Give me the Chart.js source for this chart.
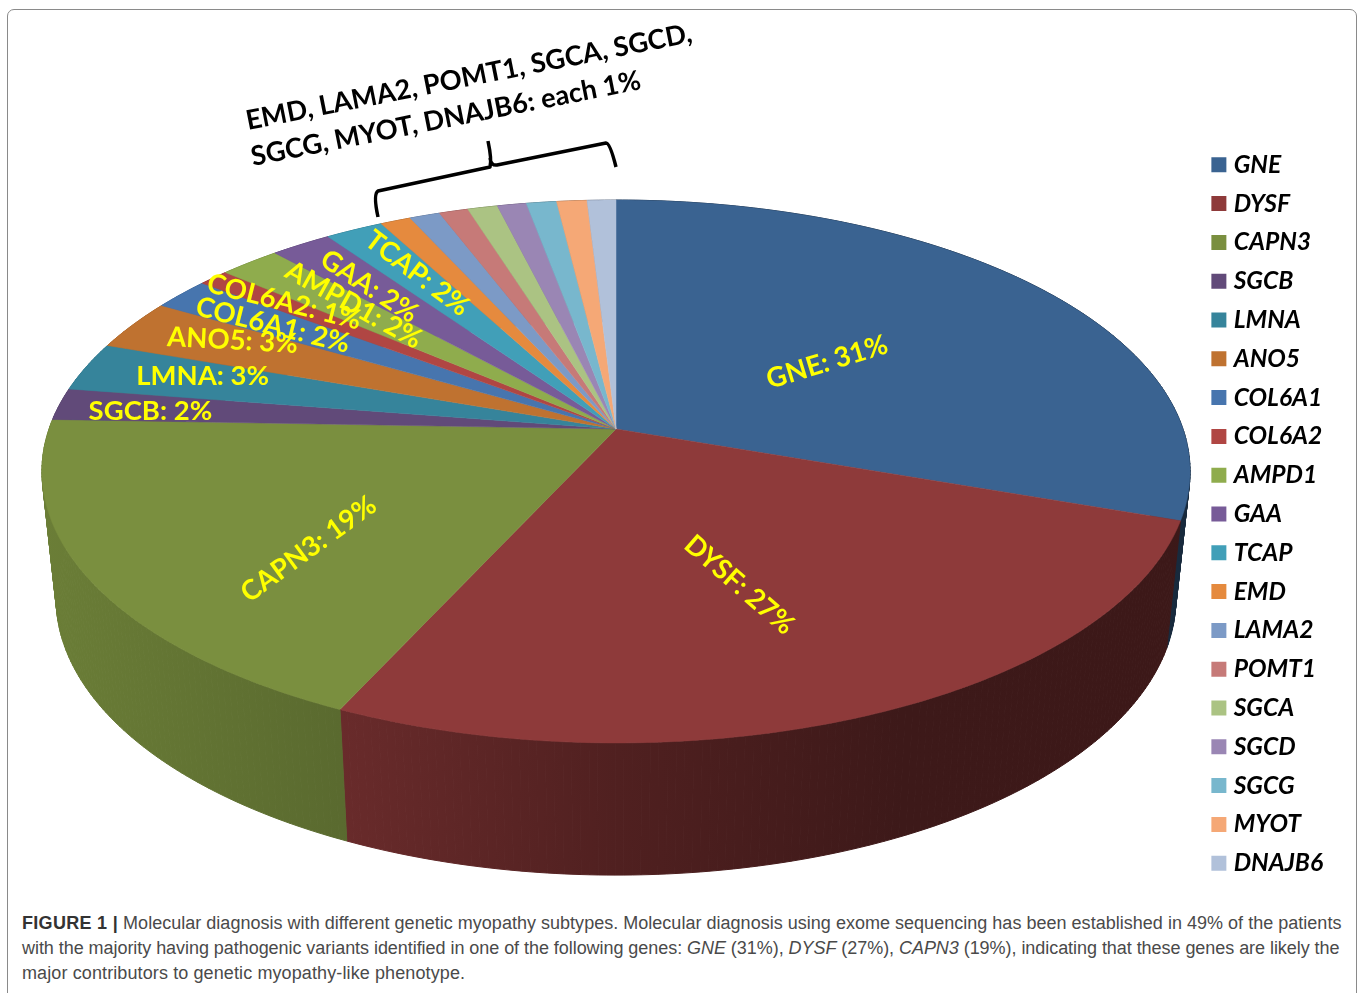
<!DOCTYPE html>
<html>
<head>
<meta charset="utf-8">
<script src="https://cdn.jsdelivr.net/npm/chart.js@4"></script>
<style>
  html, body { margin: 0; padding: 0; background: #fff; width: 1358px; height: 993px; overflow: hidden; }
  #frame { position: absolute; left: 7px; top: 9px; width: 1348px; height: 1010px; border: 1.5px solid #8a8a8a; border-radius: 7px; }
  #wrap { position: absolute; left: 0; top: 0; width: 1358px; height: 900px; }
  #caption { position: absolute; left: 22px; top: 911px; font-family: "Liberation Sans", sans-serif; font-size: 18px; line-height: 25px; color: #4a4a4a; white-space: nowrap; }
  #caption b { color: #333; letter-spacing: 0.3px; }
</style>
</head>
<body>
<div id="frame"></div>
<div id="wrap"><canvas id="pieChart"></canvas></div>
<div id="caption">
  <div style="letter-spacing:0.02px"><b>FIGURE 1 |</b> Molecular diagnosis with different genetic myopathy subtypes. Molecular diagnosis using exome sequencing has been established in 49% of the patients</div>
  <div style="letter-spacing:-0.05px">with the majority having pathogenic variants identified in one of the following genes: <i>GNE</i> (31%), <i>DYSF</i> (27%), <i>CAPN3</i> (19%), indicating that these genes are likely the</div>
  <div style="letter-spacing:0.11px">major contributors to genetic myopathy-like phenotype.</div>
</div>
<script>
// Datos
const genes = ['GNE', 'DYSF', 'CAPN3', 'SGCB', 'LMNA', 'ANO5', 'COL6A1', 'COL6A2', 'AMPD1', 'GAA', 'TCAP',
    'EMD', 'LAMA2', 'POMT1', 'SGCA', 'SGCD', 'SGCG', 'MYOT', 'DNAJB6'];
// slice sizes as measured on the picture
const sliceSizes = [30.3, 26.5, 18.7, 1.9, 2.9, 3.0, 1.9, 1.0, 2.0, 2.0, 1.9, 1.0, 1.0, 0.95, 0.98, 0.95, 0.99, 0.99, 0.94];
// percentages printed on the slices (null = no label of its own)
const printedPercent = [31, 27, 19, 2, 3, 3, 2, 1, 2, 2, 2, null, null, null, null, null, null, null, null];
const sliceColors = ['#3a6391', '#8e3a3a', '#7a8f3f', '#614a79', '#36849b', '#bf7230', '#4775ae', '#b04643', '#8fac4d',
    '#775b98', '#419fb8', '#e58a3e', '#7c9ac6', '#c67a78', '#abc383', '#9a86b4', '#78b7cd', '#f5a876', '#b1c1da'];
const groupNote = ['EMD, LAMA2, POMT1, SGCA, SGCD,', 'SGCG, MYOT, DNAJB6: each 1%'];

// where each printed label sits: radius fraction, degrees off the slice middle, text rotation
const labelPlace = [
    { r: 0.468, turn: 1.3, rot: -17 },
    { r: 0.575, turn: 2.8, rot: 41 },
    { r: 0.66, turn: -8.3, rot: -36 },
    { r: 0.833, turn: -0.7, rot: 0 },
    { r: 0.78, turn: 1.1, rot: 0 },
    { r: 0.796, turn: 1.5, rot: 3 },
    { r: 0.768, turn: -0.7, rot: 14 },
    { r: 0.818, turn: 0.5, rot: 14 },
    { r: 0.71, turn: 1.1, rot: 29 },
    { r: 0.756, turn: -0.4, rot: 33 },
    { r: 0.753, turn: 0.7, rot: 37 }
];

// view of the tilted disc: perspective of the top face and of the bottom rim
const view = { cx: 616, top: { cy: 429, sx: 567, sy: 264.8 }, low: { cy: 555, sx: 553, sy: 270 }, q: 0.1565 };
// how much light the side wall keeps from left to right
const wallLight = [[0, 0.88], [0.26, 0.74], [0.5, 0.56], [0.75, 0.43], [1, 0.42]];

function project(angle, r, plane) {
    const X = Math.cos(angle) * r, Y = Math.sin(angle) * r;
    const w = 1 - view.q * Y;
    return { x: view.cx + plane.sx * X / w, y: plane.cy + plane.sy * Y / w };
}

function rimPoints(a0, a1, plane) {
    const pts = [];
    const n = Math.max(2, Math.ceil((a1 - a0) / (Math.PI / 240)));
    for (let i = 0; i <= n; i++) pts.push(project(a0 + (a1 - a0) * i / n, 1, plane));
    return pts;
}

function tracePts(ctx, pts) {
    pts.forEach(function(p) {
        ctx.lineTo(p.x, p.y);
    });
}

function wallGradient(ctx, hex) {
    const g = ctx.createLinearGradient(42, 0, 1190, 0);
    const rgb = [1, 3, 5].map(function(k) { return parseInt(hex.substr(k, 2), 16); });
    wallLight.forEach(function(stop) {
        g.addColorStop(stop[0], 'rgb(' + rgb.map(function(v) { return Math.round(v * stop[1]); }).join(',') + ')');
    });
    return g;
}

const disc3d = {
    id: 'disc3d',
    // the library's arc elements give the angles, the disc is painted through the view above
    beforeDatasetsDraw: function(chart) {
        const ctx = chart.ctx;
        const arcs = chart.getDatasetMeta(0).data;

        // side walls first, one narrow strip at a time so the outline stays convex
        arcs.forEach(function(arc, i) {
            const upper = rimPoints(arc.startAngle, arc.endAngle, view.top);
            const lower = rimPoints(arc.startAngle, arc.endAngle, view.low);
            const paint = wallGradient(ctx, sliceColors[i]);
            ctx.fillStyle = paint;
            ctx.strokeStyle = paint;
            ctx.lineWidth = 1;
            for (let k = 0; k < upper.length - 1; k++) {
                ctx.beginPath();
                tracePts(ctx, [upper[k], upper[k + 1], lower[k + 1], lower[k]]);
                ctx.closePath();
                ctx.fill();
                ctx.stroke();
            }
        });

        // top face
        arcs.forEach(function(arc, i) {
            ctx.beginPath();
            ctx.moveTo(view.cx, view.top.cy);
            tracePts(ctx, rimPoints(arc.startAngle, arc.endAngle, view.top));
            ctx.closePath();
            ctx.fillStyle = sliceColors[i];
            ctx.strokeStyle = sliceColors[i];
            ctx.lineWidth = 0.5;
            ctx.fill();
            ctx.stroke();
        });
        return false;
    },
    afterDraw: function(chart) {
        const ctx = chart.ctx;
        const arcs = chart.getDatasetMeta(0).data;

        // labels on slices
        ctx.save();
        ctx.fillStyle = '#ffff00';
        ctx.font = 'bold 27.5px Lato';
        ctx.textAlign = 'center';
        ctx.textBaseline = 'middle';
        labelPlace.forEach(function(place, i) {
            const mid = (arcs[i].startAngle + arcs[i].endAngle) / 2 + place.turn * Math.PI / 180;
            const p = project(mid, place.r, view.top);
            ctx.save();
            ctx.translate(p.x, p.y);
            ctx.rotate(place.rot * Math.PI / 180);
            ctx.fillText(genes[i] + ': ' + printedPercent[i] + '%', 0, 0);
            ctx.restore();
        });
        ctx.restore();

        // bracket and note for the small slices
        ctx.save();
        ctx.strokeStyle = '#000';
        ctx.lineWidth = 3.5;
        ctx.lineJoin = 'round';
        ctx.beginPath();
        ctx.moveTo(378, 217);
        ctx.quadraticCurveTo(373, 194, 378, 191);
        ctx.lineTo(490, 167);
        ctx.quadraticCurveTo(492, 160, 488, 141);
        ctx.moveTo(490, 158);
        ctx.quadraticCurveTo(491, 166, 497, 165);
        ctx.lineTo(606, 143);
        ctx.quadraticCurveTo(610, 143, 616, 167);
        ctx.stroke();
        ctx.fillStyle = '#000';
        ctx.font = 'bold 27.2px Lato';
        ctx.textBaseline = 'alphabetic';
        [[248, 130, 0], [253, 166, 1]].forEach(function(spot) {
            ctx.save();
            ctx.translate(spot[0], spot[1]);
            ctx.rotate(-11.2 * Math.PI / 180);
            ctx.fillText(groupNote[spot[2]], 0, 0);
            ctx.restore();
        });
        ctx.restore();
    }
};

document.fonts.load('italic bold 25px Lato').then(function() {
    return document.fonts.load('bold 27px Lato');
}).finally(function() {
    new Chart(document.getElementById('pieChart').getContext('2d'), {
        type: 'pie',
        data: {
            labels: genes,
            datasets: [{
                data: sliceSizes,
                backgroundColor: sliceColors,
                borderColor: sliceColors,
                borderWidth: 10
            }]
        },
        plugins: [disc3d],
        options: {
            responsive: true,
            maintainAspectRatio: false,
            animation: false,
            layout: { padding: { top: 128, right: 25 } },
            plugins: {
                tooltip: { enabled: false },
                legend: {
                    position: 'right',
                    align: 'center',
                    labels: {
                        boxWidth: 5,
                        boxHeight: 5,
                        padding: 14.2,
                        color: '#000',
                        font: { family: 'Lato', size: 24.6, weight: 'bold', style: 'italic' }
                    }
                }
            }
        }
    });
});
</script>
</body>
</html>
